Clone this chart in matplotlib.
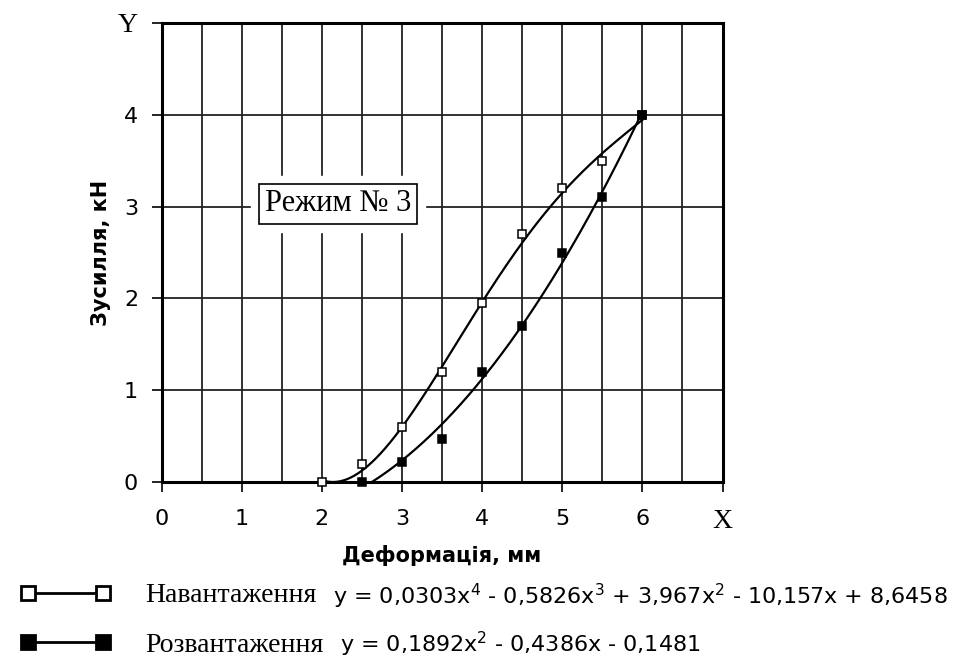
import numpy as np
import matplotlib
matplotlib.use('Agg')
import matplotlib.pyplot as plt
from matplotlib.lines import Line2D
from matplotlib.ticker import MultipleLocator

# Measured points (deformation, mm -> force, kN)
x_load = [2, 2.5, 3, 3.5, 4, 4.5, 5, 5.5, 6]
y_load = [0, 0.2, 0.6, 1.2, 1.95, 2.7, 3.2, 3.5, 4.0]
x_unload = [2.5, 3, 3.5, 4, 4.5, 5, 5.5, 6]
y_unload = [0, 0.22, 0.47, 1.2, 1.7, 2.5, 3.1, 4.0]

# Trendline coefficients as printed on the chart
coef_load = [0.0303, -0.5826, 3.967, -10.157, 8.6458]
coef_unload = [0.1892, -0.4386, -0.1481]

x_ticks = [0, 1, 2, 3, 4, 5, 6, 7]
x_ticklabels = ['0', '1', '2', '3', '4', '5', '6', 'X']
y_ticks = [0, 1, 2, 3, 4, 5]
y_ticklabels = ['0', '1', '2', '3', '4', 'Y']

label_load = 'Навантаження'
label_unload = 'Розвантаження'
eq_load = (r'y = 0,0303$\mathregular{x^4}$ - 0,5826$\mathregular{x^3}$'
           r' + 3,967$\mathregular{x^2}$ - 10,157x + 8,6458')
eq_unload = r'y = 0,1892$\mathregular{x^2}$ - 0,4386x - 0,1481'

W, H = 958, 660
fig = plt.figure(figsize=(W / 100, H / 100), dpi=100)
ax = fig.add_axes([161.7 / W, 1 - 482.3 / H, (722.5 - 161.7) / W, (482.3 - 22.7) / H])

ax.set_xlim(0, 7)
ax.set_ylim(0, 5)
ax.xaxis.set_minor_locator(MultipleLocator(0.5))
ax.set_xticks(x_ticks)
ax.set_yticks(y_ticks)
ax.set_xticklabels(x_ticklabels)
ax.set_yticklabels(y_ticklabels)
ax.grid(True, which='both', axis='x', color='#222222', lw=1.3, zorder=1)
ax.grid(True, which='major', axis='y', color='#222222', lw=1.3, zorder=1)
ax.set_axisbelow(True)
ax.tick_params(axis='both', which='major', direction='out', length=7, width=1.2,
               labelsize=16, pad=12)
ax.tick_params(axis='y', which='major', pad=10)
ax.tick_params(axis='x', which='minor', length=0)
for lab in ax.get_xticklabels() + ax.get_yticklabels():
    lab.set_family('DejaVu Sans')
ax.get_xticklabels()[-1].set_family('Liberation Serif')
ax.get_xticklabels()[-1].set_fontsize(20)
ax.get_yticklabels()[-1].set_family('Liberation Serif')
ax.get_yticklabels()[-1].set_fontsize(20)
for sp in ax.spines.values():
    sp.set_linewidth(2.2)
    sp.set_color('black')

# trendlines
xs_l = np.linspace(2, 6, 300)
ys_l = np.polyval(coef_load, xs_l)
xs_u = np.linspace(2.5, 6, 300)
ys_u = np.polyval(coef_unload, xs_u)
ax.plot(xs_l[ys_l >= 0], ys_l[ys_l >= 0], color='black', lw=1.6, zorder=3)
ax.plot(xs_u[ys_u >= 0], ys_u[ys_u >= 0], color='black', lw=1.6, zorder=3)

# measured points
ax.plot(x_load, y_load, ls='none', marker='s', ms=6, mfc='white', mec='black',
        mew=1.1, zorder=4, clip_on=False)
ax.plot(x_unload, y_unload, ls='none', marker='s', ms=6, mfc='black', mec='black',
        mew=1.1, zorder=5, clip_on=False)

ax.set_xlabel('Деформація, мм', fontsize=15, fontweight='bold', family='DejaVu Sans',
              labelpad=8)
ax.set_ylabel('Зусилля, кН', fontsize=15, fontweight='bold', family='DejaVu Sans',
              labelpad=5)

# mode box: white halo behind a framed label
ax.text(2.2, 3.03, 'Режим № 3', ha='center', va='center', fontsize=22,
        family='Liberation Serif', color='white', zorder=6,
        bbox=dict(boxstyle='square,pad=0.45', fc='white', ec='white'))
ax.text(2.2, 3.03, 'Режим № 3', ha='center', va='center', fontsize=22,
        family='Liberation Serif', color='black', zorder=7,
        bbox=dict(boxstyle='square,pad=0.18', fc='white', ec='black', lw=1.2))

handles = [
    Line2D([], [], color='black', lw=2, marker='s', ms=10, mfc='white', mec='black', mew=2),
    Line2D([], [], color='black', lw=2, marker='s', ms=10, mfc='black', mec='black', mew=2),
]
fig.legend(handles, [label_load, label_unload], loc='upper left',
           bbox_to_anchor=(20 / W, 1 - 583 / H), frameon=False, numpoints=2,
           handlelength=3.3, handletextpad=1.2, labelspacing=0.85,
           prop={'family': 'Liberation Serif', 'size': 20}, borderpad=0,
           borderaxespad=0)

fig.text(333 / W, 1 - 596 / H, eq_load, fontsize=16, family='DejaVu Sans', va='center')
fig.text(340 / W, 1 - 644 / H, eq_unload, fontsize=16, family='DejaVu Sans', va='center')

fig.savefig('out.png', dpi=100)
